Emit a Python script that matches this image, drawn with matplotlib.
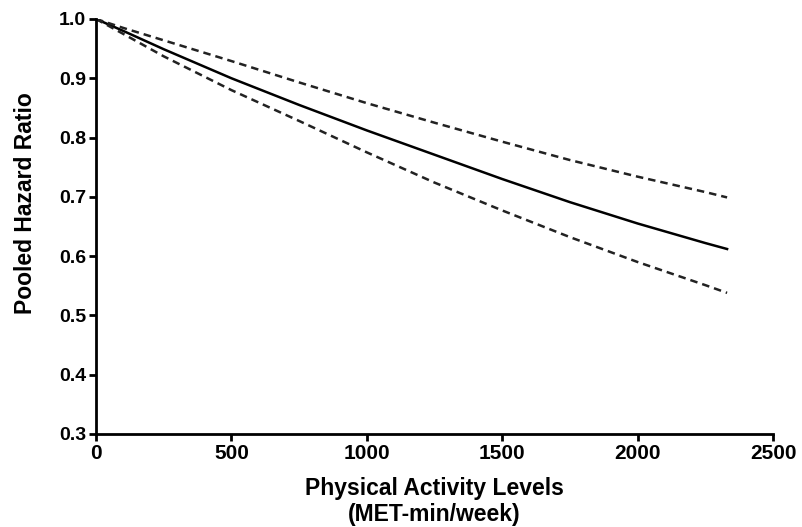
import matplotlib
matplotlib.use("Agg")
import matplotlib.pyplot as plt

# ------------------------------------------------------------
# Data
# ------------------------------------------------------------
met_min = [0, 100, 250, 500, 750, 1000, 1250, 1500, 1750, 2000, 2250, 2330]
hr_pooled = [1.0, 0.980, 0.949, 0.900, 0.855, 0.812, 0.771, 0.730, 0.691, 0.655, 0.622, 0.612]
hr_upper = [1.0, 0.985, 0.964, 0.929, 0.893, 0.858, 0.825, 0.793, 0.762, 0.734, 0.708, 0.699]
hr_lower = [1.0, 0.975, 0.937, 0.880, 0.828, 0.775, 0.724, 0.677, 0.632, 0.590, 0.551, 0.538]

x_ticks = [0, 500, 1000, 1500, 2000, 2500]
y_ticks = [0.3, 0.4, 0.5, 0.6, 0.7, 0.8, 0.9, 1.0]

plt.rcParams["font.family"] = ["Liberation Sans", "DejaVu Sans"]
plt.rcParams["font.weight"] = "bold"

fig = plt.figure(figsize=(8.02, 5.27), dpi=100)
ax = fig.add_axes([0.1197, 0.1765, 0.8443, 0.7875])

ax.plot(met_min, hr_pooled, color="black", lw=1.8, solid_joinstyle="round")
ax.plot(met_min, hr_upper, color="#222222", lw=1.8, ls=(0, (3, 2)))
ax.plot(met_min, hr_lower, color="#222222", lw=1.8, ls=(0, (3, 2)))

ax.set_xlim(0, 2500)
ax.set_ylim(0.3, 1.0)
ax.set_xticks(x_ticks)
ax.set_yticks(y_ticks)
ax.set_yticklabels([f"{v:.1f}" for v in y_ticks])

for side in ["top", "right"]:
    ax.spines[side].set_visible(False)
for side in ["left", "bottom"]:
    ax.spines[side].set_linewidth(2)
ax.tick_params(axis="both", direction="out", length=5, width=2, pad=2)
ax.tick_params(axis="x", labelsize=15)
ax.tick_params(axis="y", labelsize=14)
for lbl in ax.get_xticklabels() + ax.get_yticklabels():
    lbl.set_fontweight("bold")

ax.set_xlabel("Physical Activity Levels\n(MET-min/week)", fontsize=16.5, fontweight="bold",
              labelpad=10, linespacing=1.2)
ax.set_ylabel("Pooled Hazard Ratio", fontsize=16.5, fontweight="bold")
ax.yaxis.set_label_coords(-0.087, 0.557)

fig.savefig("out.png", dpi=100)
